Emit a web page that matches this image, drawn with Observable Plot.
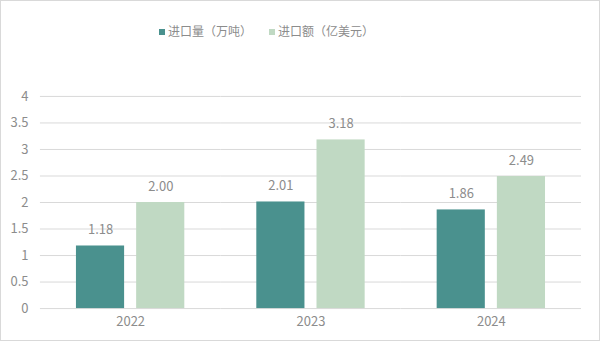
<!DOCTYPE html>
<html><head><meta charset="utf-8">
<script src="https://cdn.jsdelivr.net/npm/d3@7"></script>
<script src="https://cdn.jsdelivr.net/npm/@observablehq/plot@0.6"></script>
<style>
html,body{margin:0;padding:0;background:#fff;}
#wrap{width:600px;height:341px;box-sizing:border-box;border:1px solid #d9d9d9;position:relative;overflow:hidden;font-family:"Noto Sans CJK SC","Noto Sans",sans-serif;}
#legend{position:absolute;top:0;left:158px;height:59px;display:flex;align-items:center;gap:17px;font-size:12px;color:#8c8c8c;white-space:nowrap;}
#legend span.sw{display:inline-block;width:6px;height:6px;margin-right:3px;vertical-align:middle;position:relative;top:-1px;}
#chart{position:absolute;top:58px;left:-1px;}
</style></head>
<body><div id="wrap"><div id="legend"></div><div id="chart"></div></div>
<script>
const years = ["2022", "2023", "2024"];
const series = ["进口量（万吨）", "进口额（亿美元）"];
const volume = [1.18, 2.01, 1.86];
const amount = [2.00, 3.18, 2.49];
const colors = ["#4a918e", "#c0d9c3"];
const yTicks = [0, 0.5, 1, 1.5, 2, 2.5, 3, 3.5, 4];

const data = [];
years.forEach((y, i) => {
  data.push({year: y, series: series[0], v: volume[i]});
  data.push({year: y, series: series[1], v: amount[i]});
});

const leg = document.getElementById("legend");
series.forEach((s, i) => {
  const d = document.createElement("div");
  d.innerHTML = `<span class="sw" style="background:${colors[i]}"></span>${s}`;
  leg.appendChild(d);
});

const gray = "#8c8c8c";
const plot = Plot.plot({
  width: 600,
  height: 283,
  marginLeft: 40,
  marginRight: 18,
  marginTop: 37,
  marginBottom: 33.5,
  style: {fontFamily: '"Noto Sans CJK SC","Noto Sans",sans-serif', fontSize: "13px", color: gray, background: "transparent"},
  fx: {domain: years, padding: 0, round: false, label: null},
  x: {domain: series, paddingInner: 0.2, paddingOuter: 0.598, round: false, axis: null},
  y: {domain: [0, 4], label: null},
  color: {domain: series, range: colors},
  marks: [
    Plot.ruleY(yTicks, {stroke: "#d9d9d9", strokeWidth: 1}),
    Plot.barY(data, {fx: "year", x: "series", y: "v", fill: "series"}),
    Plot.text(data, {fx: "year", x: "series", y: "v", text: d => d.v.toFixed(2), dy: -16, fill: gray, fontSize: 13}),
    Plot.axisY({ticks: yTicks, tickSize: 0, tickPadding: 12, fontSize: 13, label: null, tickFormat: d => String(d)}),
    Plot.axisFx({anchor: "bottom", tickSize: 0, tickPadding: 8, fontSize: 13, label: null})
  ]
});
document.getElementById("chart").appendChild(plot);
</script></body></html>
